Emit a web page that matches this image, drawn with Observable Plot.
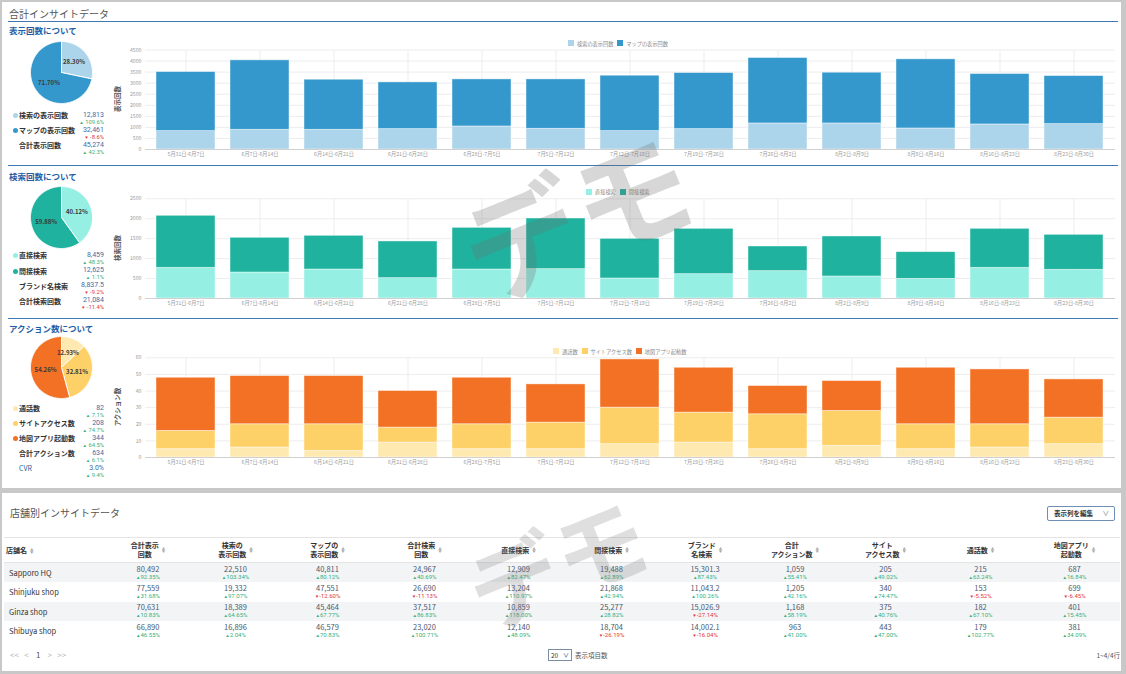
<!DOCTYPE html>
<html><head><meta charset="utf-8">
<script src="https://cdn.jsdelivr.net/npm/d3@7"></script>
<script src="https://cdn.jsdelivr.net/npm/@observablehq/plot@0.6"></script>
<style>
body{margin:0;width:1126px;height:674px;background:#c8c8c8;position:relative;overflow:hidden;font-family:"Noto Sans CJK JP","Noto Sans",sans-serif;}
svg{overflow:visible;}
table{border-collapse:collapse;table-layout:fixed;}
td,th{padding:0;text-align:center;vertical-align:middle;}
.sort{display:inline-block;font-size:3.5px;line-height:3.5px;color:#aaa;vertical-align:middle;margin-left:3px;}
.num{font-family:Roboto,"Liberation Sans",sans-serif;}
</style></head><body>
<script>
// ---------- data ----------
const weeks = ["5月31日-6月7日","6月7日-6月14日","6月14日-6月21日","6月21日-6月28日","6月28日-7月5日","7月5日-7月12日","7月12日-7月19日","7月19日-7月26日","7月26日-8月2日","8月2日-8月9日","8月9日-8月16日","8月16日-8月23日","8月23日-8月30日"];

const viewSeries = ["検索の表示回数","マップの表示回数"];
const viewSearch = [831,891,891,921,1042,936,831,921,1178,1178,951,1133,1148];
const viewMap = [2672,3141,2265,2114,2129,2235,2506,2537,2959,2295,3126,2280,2174];
const viewTicks = [0,500,1000,1500,2000,2500,3000,3500,4000,4500];
const viewPie = [28.30, 71.70];
const viewSumLabels = ["検索の表示回数","マップの表示回数","合計表示回数"];
const viewSumValues = ["12,813","32,461","45,274"];
const viewSumChange = [109.6, -8.6, 42.3];

const searchSeries = ["直接検索","間接検索"];
const searchDirect = [769,652,727,510,727,736,502,610,686,552,493,769,719];
const searchIndirect = [1305,870,845,920,1045,1270,994,1137,618,1003,669,978,878];
const searchTicks = [0,500,1000,1500,2000,2500];
const searchPie = [40.12, 59.88];
const searchSumLabels = ["直接検索","間接検索","ブランド名検索","合計検索回数"];
const searchSumValues = ["8,459","12,625","8,837.5","21,084"];
const searchSumChange = [48.3, 1.1, -9.2, -11.4];

const actionSeries = ["通話数","サイトアクセス数","地図アプリ起動数"];
const actionCall = [5,6,4,9,5,5,8,9,5,7,5,6,8];
const actionSite = [11,14,16,9,15,16,22,18,21,21,15,14,16];
const actionMapApp = [32,29,29,22,28,23,29,27,17,18,34,33,23];
const actionTicks = [0,10,20,30,40,50,60];
const actionPie = [12.93, 32.81, 54.26];
const actionSumLabels = ["通話数","サイトアクセス数","地図アプリ起動数","合計アクション数","CVR"];
const actionSumValues = ["82","208","344","634","3.0%"];
const actionSumChange = [7.1, 74.7, 64.5, 6.1, 9.4];

const storeNames = ["Sapporo HQ","Shinjuku shop","Ginza shop","Shibuya shop"];
const tableHeaders = ["合計表示<br>回数","検索の<br>表示回数","マップの<br>表示回数","合計検索<br>回数","直接検索","間接検索","ブランド<br>名検索","合計<br>アクション数","サイト<br>アクセス数","通話数","地図アプリ<br>起動数"];
const colTotalViews = ["80,492","77,559","70,631","66,890"];
const colSearchViews = ["22,510","19,332","18,389","16,896"];
const colMapViews = ["40,811","47,551","45,464","46,579"];
const colTotalSearch = ["24,967","26,690","37,517","23,020"];
const colDirect = ["12,909","13,204","10,859","12,140"];
const colIndirect = ["19,488","21,868","25,277","18,704"];
const colBrand = ["15,301.3","11,043.2","15,026.9","14,002.1"];
const colTotalAction = ["1,059","1,205","1,168","963"];
const colSite = ["205","340","375","443"];
const colCall = ["215","153","182","179"];
const colMapApp = ["687","699","401","381"];
const chgTotalViews = [92.35,31.68,10.83,46.55];
const chgSearchViews = [103.34,97.07,64.65,2.04];
const chgMapViews = [80.12,-12.60,67.77,70.83];
const chgTotalSearch = [40.69,-11.13,86.83,100.71];
const chgDirect = [82.47,110.97,118.00,48.09];
const chgIndirect = [62.89,42.94,28.82,-26.19];
const chgBrand = [87.43,100.26,-27.14,-16.04];
const chgTotalAction = [55.41,42.16,58.19,41.00];
const chgSite = [49.02,74.47,40.76,47.00];
const chgCall = [63.24,-5.52,67.10,102.77];
const chgMapApp = [16.84,-6.45,15.45,34.09];

// ---------- helpers ----------
const FONT = '"Noto Sans CJK JP","Noto Sans",sans-serif';
function el(parent, tag, css, html){
  const e = document.createElement(tag);
  if (css) e.style.cssText = css;
  if (html !== undefined) e.innerHTML = html;
  parent.appendChild(e); return e;
}
function txt(x, y, s, css, lh){ // y = vertical centre
  lh = lh || 12;
  return el(document.body, "div", `position:absolute;white-space:nowrap;left:${x}px;top:${y-lh/2}px;line-height:${lh}px;${css||""}`, s);
}
const GREEN = "#35b07c", RED = "#e2343a";
function chg(v, pctDigits){
  const up = v >= 0;
  const s = pctDigits !== undefined ? v.toFixed(pctDigits) : String(v);
  return `<span class="num" style="color:${up?GREEN:RED}"><span style="font-size:4.5px">${up?"▲":"▼"}</span> ${s}%</span>`;
}

// ---------- panels ----------
el(document.body, "div", "position:absolute;left:2px;top:2px;width:1119px;height:486px;background:#fff;");
el(document.body, "div", "position:absolute;left:2px;top:493px;width:1119px;height:178px;background:#fff;");

txt(9, 14, "合計インサイトデータ", "font-size:10px;color:#555;");
el(document.body, "div", "position:absolute;left:8px;top:21px;width:1110px;height:1px;background:#3f79b3;");
el(document.body, "div", "position:absolute;left:8px;top:165px;width:1110px;height:1px;background:#3f79b3;");
el(document.body, "div", "position:absolute;left:8px;top:318px;width:1110px;height:1px;background:#3f79b3;");
const headCss = "font-size:8.5px;font-weight:bold;color:#1f5ea6;";
txt(9, 30, "表示回数について", headCss, 10);
txt(9, 175.5, "検索回数について", headCss, 10);
txt(9, 327.5, "アクション数について", headCss, 10);

// ---------- pies ----------
function pie(values, colors, top){
  const total = d3.sum(values);
  let acc = 0;
  const slices = values.map((v, i) => {
    const a0 = acc / total * 2 * Math.PI; acc += v;
    const a1 = acc / total * 2 * Math.PI;
    return {a0, a1, i, v, mid: (a0 + a1) / 2};
  });
  const marks = slices.map(s => {
    const n = Math.max(2, Math.ceil((s.a1 - s.a0) / 0.02));
    const pts = [{x: 0, y: 0}];
    for (let k = 0; k <= n; k++) {
      const a = s.a0 + (s.a1 - s.a0) * k / n;
      pts.push({x: Math.sin(a), y: Math.cos(a)});
    }
    pts.push({x: 0, y: 0});
    return Plot.line(pts, {x: "x", y: "y", fill: colors[s.i], stroke: "white", strokeWidth: 1});
  });
  marks.push(Plot.text(slices, {x: s => 0.52 * Math.sin(s.mid), y: s => 0.52 * Math.cos(s.mid), text: s => s.v.toFixed(2) + "%", fill: "#3a3a3a", fontWeight: 600, fontSize: 6}));
  const svg = Plot.plot({
    width: 70, height: 70, margin: 4,
    x: {domain: [-1, 1], axis: null}, y: {domain: [-1, 1], axis: null},
    style: {background: "transparent", fontFamily: FONT},
    marks
  });
  svg.style.cssText += `position:absolute;left:25.5px;top:${top}px;`;
  document.body.appendChild(svg);
}
const viewColors = ["#acd5ec", "#3498cc"];
const searchColors = ["#96efe3", "#1fb29e"];
const actionColors = ["#fee9b0", "#fed168", "#f27124"];
pie(viewPie, viewColors, 37);
pie(searchPie, searchColors, 182);
pie(actionPie, actionColors, 332);

// ---------- side summaries ----------
function summary(labels, values, changes, colors, ys){
  labels.forEach((l, i) => {
    const y = ys[i];
    if (i < colors.length) el(document.body, "div", `position:absolute;left:12.5px;top:${y-2.5}px;width:5px;height:5px;border-radius:50%;background:${colors[i]};`);
    const isCvr = l === "CVR";
    txt(19, y, l, `font-size:7px;${isCvr ? "color:#2a5f9e;" : "font-weight:bold;color:#333;"}`, 9);
    el(document.body, "div", `position:absolute;right:1022px;top:${y-5}px;line-height:7px;font-size:7px;color:#3f6aa3;white-space:nowrap;`, `<span class="num">${values[i]}</span>`);
    el(document.body, "div", `position:absolute;right:1022px;top:${y+3}px;line-height:6px;font-size:5.8px;white-space:nowrap;`, chg(changes[i]));
  });
}
summary(viewSumLabels, viewSumValues, viewSumChange, viewColors, [115.5, 130.5, 145.5]);
summary(searchSumLabels, searchSumValues, searchSumChange, searchColors, [255.5, 271, 286, 301]);
summary(actionSumLabels, actionSumValues, actionSumChange, actionColors, [408.5, 423.5, 438.5, 453.5, 468.5]);

// ---------- bar charts ----------
function bars(series, valueArrays, colors, ticks, top, mt, mb, yLabel, legendY, legendX){
  const long = [];
  series.forEach((s, si) => valueArrays[si].forEach((v, i) => long.push({week: weeks[i], series: s, value: v})));
  const svg = Plot.plot({
    width: 1020, height: 130,
    marginLeft: 45, marginRight: 5, marginTop: mt, marginBottom: mb,
    style: {fontSize: "5.2px", color: "#9a9a9a", background: "transparent", fontFamily: FONT},
    x: {domain: weeks, paddingInner: 0.2, paddingOuter: 0.1, tickSize: 0, tickPadding: 3, label: null},
    y: {domain: [0, ticks[ticks.length-1]], ticks: ticks, tickFormat: d => String(d), tickSize: 0, tickPadding: 4, label: null},
    color: {domain: series, range: colors},
    marks: [
      Plot.ruleY(ticks, {stroke: "#ededed"}),
      Plot.ruleX(weeks, {stroke: "#ededed"}),
      Plot.barY(long, {x: "week", y: "value", fill: "series", stroke: "white", strokeOpacity: 0.55, strokeWidth: 0.8}),
      Plot.ruleY([0], {stroke: "#d0d0d0"})
    ]
  });
  svg.style.cssText += `position:absolute;left:100px;top:${top}px;`;
  document.body.appendChild(svg);
  el(document.body, "div", `position:absolute;left:117px;top:${top + mt + (130 - mt - mb)/2}px;transform:translate(-50%,-50%) rotate(-90deg);font-size:6.5px;line-height:8px;font-weight:bold;color:#555;white-space:nowrap;`, yLabel);
  const lg = el(document.body, "div", `position:absolute;left:${legendX}px;top:${legendY-5}px;height:10px;display:flex;align-items:center;font-size:5.2px;color:#888;white-space:nowrap;`);
  series.forEach((s, i) => {
    el(lg, "span", `display:inline-block;width:6px;height:6px;background:${colors[i]};margin-right:3px;margin-left:${i?4:0}px;`);
    el(lg, "span", "", s);
  });
}
bars(viewSeries, [viewSearch, viewMap], viewColors, viewTicks, 35, 14.5, 16, "表示回数", 43, 568);
bars(searchSeries, [searchDirect, searchIndirect], searchColors, searchTicks, 180, 18.3, 12, "検索回数", 191.5, 586);
bars(actionSeries, [actionCall, actionSite, actionMapApp], actionColors, actionTicks, 340, 17.3, 13, "アクション数", 351, 553);

// ---------- table panel ----------
txt(10, 513, "店舗別インサイトデータ", "font-size:10px;color:#555;");
el(document.body, "div", "position:absolute;left:1047px;top:506px;width:68px;height:15px;border:1px solid #6e8fb3;border-radius:2px;box-sizing:border-box;font-size:6.5px;font-weight:bold;color:#333;line-height:13px;padding-left:6px;", "表示列を編集<span style='position:absolute;right:5px;color:#555;font-weight:normal'>∨</span>");

const cols = [
  [colTotalViews, chgTotalViews],[colSearchViews, chgSearchViews],[colMapViews, chgMapViews],[colTotalSearch, chgTotalSearch],
  [colDirect, chgDirect],[colIndirect, chgIndirect],[colBrand, chgBrand],[colTotalAction, chgTotalAction],
  [colSite, chgSite],[colCall, chgCall],[colMapApp, chgMapApp]
];
const colWidths = [100,88,87,97,97,91,95,92,88,93,97,91];
const sortIcon = '<span class="sort">▲<br>▼</span>';
let html = '<colgroup>' + colWidths.map(w => `<col style="width:${w}px">`).join("") + '</colgroup>';
html += '<tr style="height:25px;border-top:1px solid #e4e4e4;border-bottom:1px solid #e4e4e4;">';
html += `<th style="text-align:left;padding-left:2px;font-size:7px;color:#333;">店舗名${sortIcon}</th>`;
tableHeaders.forEach(h => {
  html += `<th style="font-size:7px;color:#333;line-height:9px;"><span style="display:inline-block;vertical-align:middle">${h}</span>${sortIcon}</th>`;
});
html += '</tr>';
storeNames.forEach((n, r) => {
  html += `<tr style="height:19.5px;background:${r % 2 === 0 ? "#f3f4f6" : "#fff"}">`;
  html += `<td style="text-align:left;padding-left:5px;font-size:7.5px;color:#333;">${n}</td>`;
  cols.forEach(([vals, chgs]) => {
    html += `<td><div style="font-size:7.5px;line-height:8px;color:#4a5a70;">${vals[r]}</div><div style="font-size:6px;line-height:7px;">${chg(chgs[r], 2).replace("</span> ", "</span>")}</div></td>`;
  });
  html += '</tr>';
});
el(document.body, "table", "position:absolute;left:4px;top:537px;width:1116px;", html);

txt(10, 655, "&lt;&lt;&nbsp;&nbsp;&nbsp;&lt;&nbsp;&nbsp;&nbsp;&nbsp;<span style='color:#555'>1</span>&nbsp;&nbsp;&nbsp;&nbsp;&gt;&nbsp;&nbsp;&nbsp;&gt;&gt;", "font-size:8px;color:#b0b0b0;");
el(document.body, "div", "position:absolute;left:548px;top:649px;width:24px;height:12px;border:1px solid #7a8da3;box-sizing:border-box;font-size:6.5px;line-height:10px;padding-left:2px;color:#333;", "20<span style='position:absolute;right:2px;font-size:6px;color:#1f3f7a'>∨</span>");
txt(575, 655, "表示項目数", "font-size:6.5px;color:#555;");
el(document.body, "div", "position:absolute;right:6px;top:649px;line-height:12px;font-size:6.5px;color:#555;white-space:nowrap;", "1~4/4行");

// ---------- watermarks ----------
el(document.body, "div", "position:absolute;left:575px;top:212px;transform:translate(-50%,-50%) rotate(-22deg);font-size:118px;font-weight:bold;color:rgba(110,110,110,0.28);white-space:nowrap;pointer-events:none;line-height:1;", "デモ");
el(document.body, "div", "position:absolute;left:556px;top:560px;transform:translate(-50%,-50%) rotate(-22deg);font-size:92px;font-weight:bold;color:rgba(110,110,110,0.22);white-space:nowrap;pointer-events:none;line-height:1;", "デモ");
</script>
</body></html>
